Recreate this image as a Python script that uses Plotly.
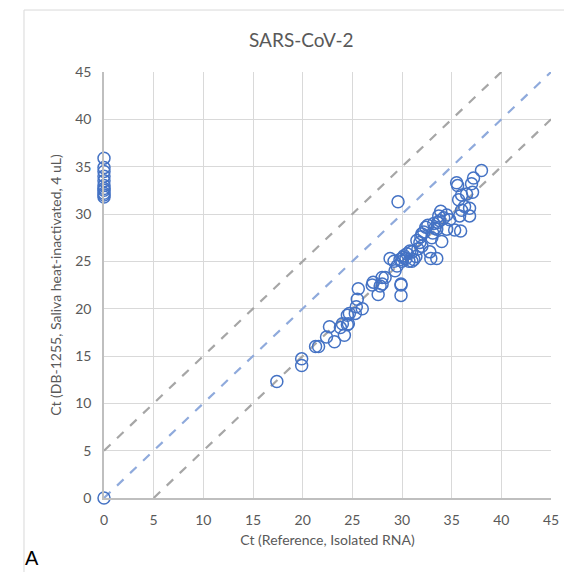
import plotly.graph_objects as go

# Reference Ct (isolated RNA) vs saliva Ct (DB-1255)
ref_ct = [0, 0, 0, 0, 0, 0, 0, 0, 0, 0, 0, 0,
          17.4, 19.9, 19.9, 21.3, 21.6, 22.4, 22.7, 23.2, 23.8, 24.0, 24.2, 24.5, 24.5, 24.7, 24.6,
          25.3, 25.4, 25.5, 25.6, 26.0, 27.0, 27.1, 27.6, 27.8, 28.0, 28.3, 28.0,
          28.8, 29.3, 29.5, 29.6, 29.8, 29.9, 29.9, 29.9, 30.0,
          30.2, 30.4, 30.5, 30.7, 31.0, 31.0, 31.2, 31.4, 31.6, 31.8, 31.9, 32.0, 32.2, 32.6,
          32.8, 32.9, 33.0, 33.1, 33.2, 33.3, 33.5, 33.5, 33.7, 33.8, 33.9, 34.0, 34.2, 34.5, 34.5,
          35.3, 35.5, 35.6, 35.7, 35.8, 35.9, 36.0, 36.0, 36.3, 36.5, 36.8, 36.8, 37.0, 37.1, 37.2, 38.0,
          30.8, 31.5, 32.4, 33.6, 34.8, 32.0, 30.1, 29.2]
saliva_ct = [0, 35.9, 34.9, 34.5, 34.0, 33.5, 33.0, 32.7, 32.5, 32.2, 32.0, 31.8,
             12.3, 14.7, 14.0, 16.0, 16.0, 17.0, 18.1, 16.5, 18.0, 18.4, 17.2, 18.3, 19.3, 19.5, 18.4,
             19.5, 20.2, 21.0, 22.1, 20.0, 22.5, 22.8, 21.5, 22.4, 23.3, 23.3, 22.6,
             25.3, 24.0, 24.5, 31.3, 25.2, 22.6, 21.4, 22.5, 25.0,
             25.6, 25.3, 25.8, 25.0, 25.0, 26.0, 25.2, 25.5, 26.3, 27.0, 27.6, 26.6, 28.1, 28.8,
             26.0, 25.3, 27.5, 28.0, 29.0, 28.5, 25.3, 28.4, 29.8, 29.3, 30.3, 27.1, 29.6, 28.4, 29.9,
             28.3, 33.3, 33.0, 31.5, 29.8, 28.2, 32.0, 30.4, 30.8, 32.1, 30.6, 29.8, 33.2, 32.3, 33.8, 34.6,
             26.1, 27.2, 28.6, 29.1, 29.4, 27.9, 25.4, 25.0]

line_x = [0, 45]
identity_y = [0, 45]
upper_x = [0, 40]
upper_y = [5, 45]
lower_x = [5, 45]
lower_y = [0, 40]

ticks = list(range(0, 46, 5))
font_family = "Lato, Open Sans, sans-serif"
text_gray = "#595959"

fig = go.Figure()
fig.add_trace(go.Scatter(x=upper_x, y=upper_y, mode="lines",
                         line=dict(color="#a6a6a6", width=2.2, dash="dash"),
                         hoverinfo="skip", showlegend=False))
fig.add_trace(go.Scatter(x=lower_x, y=lower_y, mode="lines",
                         line=dict(color="#a6a6a6", width=2.2, dash="dash"),
                         hoverinfo="skip", showlegend=False))
fig.add_trace(go.Scatter(x=line_x, y=identity_y, mode="lines",
                         line=dict(color="#8faadc", width=2.2, dash="dash"),
                         hoverinfo="skip", showlegend=False))
fig.add_trace(go.Scatter(x=ref_ct, y=saliva_ct, mode="markers",
                         marker=dict(symbol="circle-open", size=12,
                                     color="#4472c4", line=dict(width=1.5)),
                         cliponaxis=False, showlegend=False))

fig.update_layout(
    width=564, height=564,
    margin=dict(l=96, r=21, t=64, b=74),
    paper_bgcolor="white", plot_bgcolor="white",
    font=dict(family=font_family, color=text_gray, size=14),
    title=dict(text="SARS-CoV-2", x=0.52, xanchor="center", y=0.943, yanchor="middle",
               font=dict(size=19, color=text_gray, family=font_family)),
    xaxis=dict(range=[0, 45], tickvals=ticks, showgrid=True, gridcolor="#d9d9d9", gridwidth=1.3,
               zeroline=False, showline=True, linecolor="#bfbfbf", linewidth=1.5,
               ticks="", ticklabelstandoff=8,
               tickfont=dict(size=14, color=text_gray),
               title=dict(text="Ct (Reference, Isolated RNA)", standoff=9,
                          font=dict(size=14, color=text_gray))),
    yaxis=dict(range=[0, 45], tickvals=ticks, showgrid=True, gridcolor="#d9d9d9", gridwidth=1.3,
               zeroline=False, showline=True, linecolor="#bfbfbf", linewidth=1.5,
               ticks="", ticklabelstandoff=8,
               tickfont=dict(size=14, color=text_gray),
               title=dict(text="Ct (DB-1255, Saliva heat-inactivated, 4 uL)", standoff=10,
                          font=dict(size=14, color=text_gray))),
    shapes=[dict(type="rect", xref="paper", yref="paper",
                 x0=-0.179, x1=1.2, y0=-0.4, y1=1.1455,
                 line=dict(color="#d9d9d9", width=1), layer="below")],
    annotations=[dict(text="A", xref="paper", yref="paper", x=-0.16, y=-0.14,
                      xanchor="center", yanchor="middle", showarrow=False,
                      font=dict(size=20, color="black", family="Liberation Sans, Arial"))],
)

fig.write_html("out.html")
